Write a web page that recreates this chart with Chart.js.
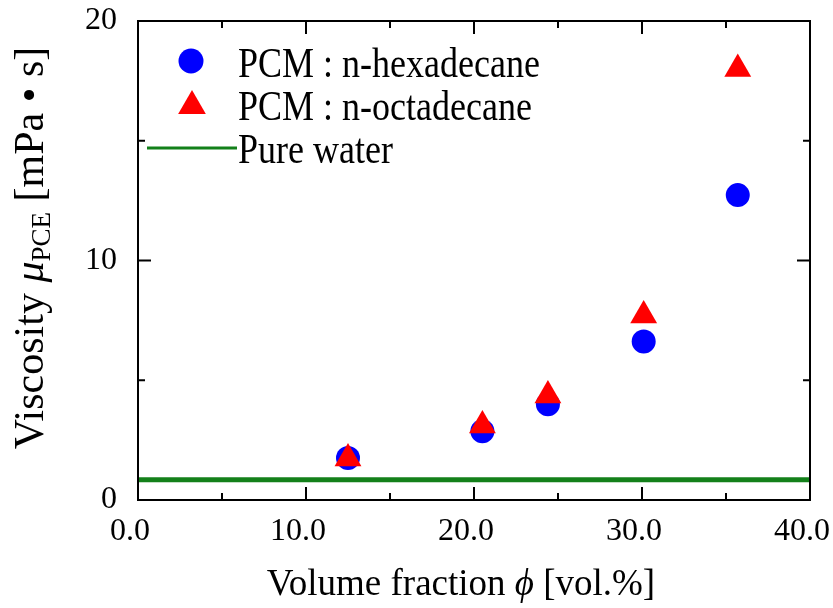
<!DOCTYPE html>
<html>
<head>
  <title>Viscosity vs volume fraction</title>
  <script src="https://cdn.jsdelivr.net/npm/chart.js"></script>
  <style>
    body { margin: 0; background: #fff; }
  </style>
</head>
<body>
  <canvas id="chart1" width="833" height="608"></canvas>

  <script>
    // valori
    const volumeFraction = [12.5, 20.5, 24.4, 30.1, 35.7];
    const viscHexadecane = [1.75, 2.87, 4.0, 6.62, 12.73];
    const viscOctadecane = [1.73, 3.11, 4.36, 7.7, 18.0];
    const waterX = [0, 40];
    const waterViscosity = [0.85, 0.85];
    const legendLabels = ["PCM : n-hexadecane", "PCM : n-octadecane", "Pure water"];
    const xTicks = [0, 10, 20, 30, 40];
    const xMinor = [5, 15, 25, 35];
    const yTicks = [0, 10, 20];
    const yMinor = [5, 15];

    const serif = "'Liberation Serif', 'DejaVu Serif', serif";
    const blue = "#0000ff";
    const red = "#ff0000";
    const green = "#13801a";

    function points(xs, ys) {
      return xs.map((x, i) => ({ x: x, y: ys[i] }));
    }

    // text pe bucati (italic, indice)
    function richText(ctx, parts, cx, baseY) {
      let total = 0;
      parts.forEach(p => {
        ctx.font = p.font;
        p.w = ctx.measureText(p.t).width;
        total += p.w;
      });
      let x = cx - total / 2;
      ctx.textAlign = "left";
      ctx.textBaseline = "alphabetic";
      parts.forEach(p => {
        ctx.font = p.font;
        ctx.fillText(p.t, x, baseY + (p.dy || 0));
        x += p.w;
      });
    }

    const framePlugin = {
      id: "frame",
      afterDraw(chart) {
        const ctx = chart.ctx;
        const a = chart.chartArea;
        const x = chart.scales.x;
        const y = chart.scales.y;
        ctx.save();
        ctx.strokeStyle = "#000";
        ctx.lineWidth = 2;
        ctx.strokeRect(a.left, a.top, a.right - a.left, a.bottom - a.top);
        ctx.beginPath();
        function xt(vals, len) {
          vals.forEach(v => {
            const px = x.getPixelForValue(v);
            ctx.moveTo(px, a.bottom); ctx.lineTo(px, a.bottom - len);
            ctx.moveTo(px, a.top); ctx.lineTo(px, a.top + len);
          });
        }
        function yt(vals, len) {
          vals.forEach(v => {
            const py = y.getPixelForValue(v);
            ctx.moveTo(a.left, py); ctx.lineTo(a.left + len, py);
            ctx.moveTo(a.right, py); ctx.lineTo(a.right - len, py);
          });
        }
        xt(xTicks, 13); xt(xMinor, 7);
        yt(yTicks, 13); yt(yMinor, 7);
        ctx.stroke();

        // legenda
        ctx.fillStyle = blue;
        Chart.helpers.drawPoint(ctx, { pointStyle: "circle", radius: 12.5, rotation: 0, borderWidth: 0 }, 191, 61);
        ctx.fillStyle = red;
        Chart.helpers.drawPoint(ctx, { pointStyle: "triangle", radius: 16, rotation: 0, borderWidth: 0 }, 192, 106);
        ctx.strokeStyle = green;
        ctx.lineWidth = 3;
        ctx.beginPath();
        ctx.moveTo(147, 148); ctx.lineTo(237, 148);
        ctx.stroke();
        ctx.fillStyle = "#000";
        ctx.font = "36px " + serif;
        ctx.textAlign = "left";
        ctx.textBaseline = "alphabetic";
        [77, 120, 163].forEach((b, i) => {
          ctx.save();
          ctx.translate(238, b);
          ctx.scale(1, 1.2);
          ctx.fillText(legendLabels[i], 0, 0);
          ctx.restore();
        });

        // titluri axe
        const big = "37px " + serif;
        const bigIt = "italic 37px " + serif;
        richText(ctx, [
          { t: "Volume fraction ", font: big },
          { t: "\u03D5", font: bigIt },
          { t: " [vol.%]", font: big }
        ], 461, 595);

        ctx.translate(43, 248);
        ctx.rotate(-Math.PI / 2);
        richText(ctx, [
          { t: "Viscosity ", font: "42px " + serif },
          { t: "\u03BC", font: "italic 42px " + serif },
          { t: "PCE", font: "27px " + serif, dy: 7 },
          { t: " [mPa \u2022 s]", font: "42px " + serif }
        ], 0, 0);
        ctx.restore();
      }
    };

    const ctx = document.getElementById("chart1").getContext("2d");
    const chart = new Chart(ctx, {
      type: "scatter",
      data: {
        datasets: [
          {
            label: legendLabels[0],
            data: points(volumeFraction, viscHexadecane),
            pointStyle: "circle",
            pointRadius: 12,
            backgroundColor: blue,
            borderWidth: 0,
            order: 2
          },
          {
            label: legendLabels[1],
            data: points(volumeFraction, viscOctadecane),
            pointStyle: "triangle",
            pointRadius: 15.5,
            backgroundColor: red,
            borderWidth: 0,
            order: 1
          },
          {
            type: "line",
            label: legendLabels[2],
            data: points(waterX, waterViscosity),
            borderColor: green,
            borderWidth: 5,
            pointRadius: 0,
            showLine: true,
            order: 3
          }
        ]
      },
      options: {
        responsive: false,
        animation: false,
        layout: { padding: { left: 0, right: 23, top: 21, bottom: 0 } },
        plugins: {
          legend: { display: false },
          tooltip: { enabled: false }
        },
        scales: {
          x: {
            type: "linear",
            min: 0,
            max: 40,
            afterBuildTicks: s => { s.ticks = xTicks.map(v => ({ value: v })); },
            afterFit: s => { s.height = 108; s.paddingLeft = 0; s.paddingRight = 0; },
            ticks: {
              color: "#000",
              font: { family: serif, size: 32 },
              padding: 4,
              labelOffset: -8,
              maxRotation: 0,
              autoSkip: false,
              callback: v => v.toFixed(1)
            },
            grid: { display: false },
            border: { display: false }
          },
          y: {
            type: "linear",
            min: 0,
            max: 20,
            afterBuildTicks: s => { s.ticks = yTicks.map(v => ({ value: v })); },
            afterFit: s => { s.width = 138; s.paddingTop = 0; s.paddingBottom = 0; },
            ticks: {
              color: "#000",
              font: { family: serif, size: 32 },
              padding: 13,
              autoSkip: false,
              callback: v => String(v)
            },
            grid: { display: false },
            border: { display: false }
          }
        }
      },
      plugins: [framePlugin]
    });
  </script>
</body>
</html>
